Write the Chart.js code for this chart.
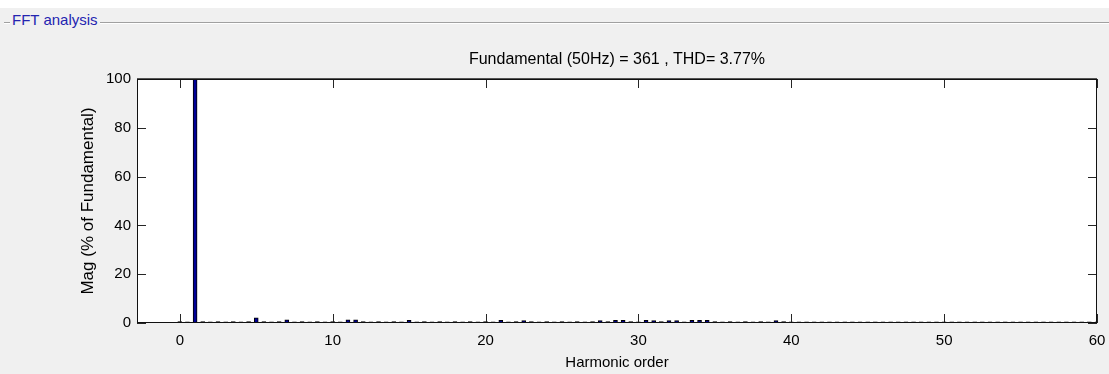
<!DOCTYPE html>
<html>
<head>
<meta charset="utf-8">
<title>FFT analysis</title>
<script src="https://cdn.jsdelivr.net/npm/chart.js@4.4.1/dist/chart.umd.min.js"></script>
<style>
    html, body { margin: 0; padding: 0; }
    body {
        position: relative;
        width: 1109px;
        height: 374px;
        overflow: hidden;
        background: linear-gradient(#ffffff 0, #ffffff 8px, #f0f0f0 8px);
        font-family: "Liberation Sans", Arial, sans-serif;
    }
    .group-line {
        position: absolute;
        left: 4px; right: 0; top: 22px;
        border-top: 1px solid #a0a0a0;
        border-bottom: 1px solid #ffffff;
    }
    .group-title {
        position: absolute;
        left: 10px; top: 11px;
        padding: 0 2px;
        background: #f0f0f0;
        color: #2424b0;
        font-size: 15px;
        line-height: 18px;
    }
    .chart-box { position: absolute; left: 0; top: 0; width: 1109px; height: 374px; }
</style>
</head>
<body>
<div class="group-line"></div>
<div class="group-title">FFT analysis</div>
<div class="chart-box"><canvas id="fftChart"></canvas></div>

<script>
// Harmonic bins (half-order resolution) and their magnitudes in % of fundamental
const harmonicOrders = [
    0, 0.5, 1, 1.5, 2, 2.5, 3, 3.5, 4, 4.5,
    5, 5.5, 6, 6.5, 7, 7.5, 8, 8.5, 9, 9.5,
    10, 10.5, 11, 11.5, 12, 12.5, 13, 13.5, 14, 14.5,
    15, 15.5, 16, 16.5, 17, 17.5, 18, 18.5, 19, 19.5,
    20, 20.5, 21, 21.5, 22, 22.5, 23, 23.5, 24, 24.5,
    25, 25.5, 26, 26.5, 27, 27.5, 28, 28.5, 29, 29.5,
    30, 30.5, 31, 31.5, 32, 32.5, 33, 33.5, 34, 34.5,
    35, 35.5, 36, 36.5, 37, 37.5, 38, 38.5, 39, 39.5,
    40, 40.5, 41, 41.5, 42, 42.5, 43, 43.5, 44, 44.5,
    45, 45.5, 46, 46.5, 47, 47.5, 48, 48.5, 49, 49.5,
    50, 50.5, 51, 51.5, 52, 52.5, 53, 53.5, 54, 54.5,
    55, 55.5, 56, 56.5, 57, 57.5, 58, 58.5, 59, 59.5,
    60
];

const magnitudes = [
    0.55, 0.5, 100, 0.55, 0.5, 0.55, 0.5, 0.55, 0.5, 0.55,
    2.1, 0.55, 0.5, 0.55, 1.3, 0.5, 0.55, 0.5, 0.55, 0.5,
    0.55, 0.5, 1.25, 1.25, 0.55, 0.5, 0.55, 0.5, 0.55, 0.5,
    1.1, 0.5, 0.55, 0.5, 0.55, 0.5, 0.55, 0.5, 0.55, 0.5,
    0.55, 0.5, 1.1, 0.5, 0.55, 1.0, 0.55, 0.5, 0.55, 0.5,
    0.55, 0.5, 0.55, 0.5, 0.55, 1.0, 0.55, 1.1, 1.1, 0.55,
    0.5, 1.1, 1.0, 0.55, 1.0, 1.0, 0.5, 1.05, 1.1, 1.05,
    0.55, 0.5, 0.55, 0.5, 0.55, 0.5, 0.55, 0.5, 1.0, 0.55,
    0.5, 0.5, 0.5, 0.5, 0.5, 0.5, 0.5, 0.5, 0.5, 0.5,
    0.5, 0.5, 0.5, 0.5, 0.5, 0.5, 0.5, 0.5, 0.5, 0.5,
    0.5, 0.5, 0.5, 0.5, 0.5, 0.5, 0.5, 0.5, 0.5, 0.5,
    0.5, 0.5, 0.5, 0.5, 0.5, 0.5, 0.5, 0.5, 0.5, 0.5,
    0.5
];

const xTicks = [0, 10, 20, 30, 40, 50, 60];
const yTicks = [0, 20, 40, 60, 80, 100];

const fundamentalHz = 50;
const fundamentalMag = 361;
const thdPercent = 3.77;

const TICK_LEN = 9;

// White plot background, box frame and inward ticks on all four sides
const axesFrame = {
    id: 'axesFrame',
    beforeDraw(chart) {
        const { ctx, chartArea: a } = chart;
        ctx.save();
        ctx.fillStyle = '#ffffff';
        ctx.fillRect(a.left, a.top, a.right - a.left, a.bottom - a.top);
        ctx.restore();
    },
    afterDraw(chart) {
        const { ctx, chartArea: a, scales } = chart;
        ctx.save();
        ctx.strokeStyle = '#262626';
        ctx.lineWidth = 1;
        ctx.beginPath();
        scales.x.ticks.forEach(t => {
            const px = Math.round(scales.x.getPixelForValue(t.value)) + 0.5;
            ctx.moveTo(px, a.bottom);
            ctx.lineTo(px, a.bottom - TICK_LEN);
            ctx.moveTo(px, a.top);
            ctx.lineTo(px, a.top + TICK_LEN);
        });
        scales.y.ticks.forEach(t => {
            const py = Math.round(scales.y.getPixelForValue(t.value)) + 0.5;
            ctx.moveTo(a.left, py);
            ctx.lineTo(a.left + TICK_LEN, py);
            ctx.moveTo(a.right, py);
            ctx.lineTo(a.right - TICK_LEN, py);
        });
        ctx.stroke();

        ctx.strokeStyle = '#111111';
        ctx.strokeRect(Math.round(a.left) + 0.5, Math.round(a.top) + 0.5,
            Math.round(a.right - a.left) - 1, Math.round(a.bottom - a.top) - 1);
        // slightly heavier top edge
        ctx.strokeStyle = '#555555';
        ctx.beginPath();
        ctx.moveTo(a.left, Math.round(a.top) - 0.5);
        ctx.lineTo(a.right, Math.round(a.top) - 0.5);
        ctx.stroke();
        ctx.restore();
    }
};

const axisFont = { family: '"Liberation Sans", Arial, sans-serif', size: 15 };

new Chart(document.getElementById('fftChart'), {
    type: 'bar',
    data: {
        datasets: [{
            data: harmonicOrders.map((h, i) => ({ x: h, y: magnitudes[i] })),
            backgroundColor: '#000096',
            borderColor: '#000000',
            borderWidth: 1,
            barThickness: 4
        }]
    },
    options: {
        responsive: true,
        maintainAspectRatio: false,
        animation: false,
        layout: { padding: 0 },
        plugins: {
            legend: { display: false },
            tooltip: { enabled: false },
            title: {
                display: true,
                fullSize: false,
                text: `Fundamental (${fundamentalHz}Hz) = ${fundamentalMag} , THD= ${thdPercent}%`,
                color: '#000000',
                font: { family: '"Liberation Sans", Arial, sans-serif', size: 16, weight: 'normal', lineHeight: 1.2 },
                padding: { top: 50.4, bottom: 9.4 }
            }
        },
        scales: {
            x: {
                type: 'linear',
                offset: false,
                bounds: 'ticks',
                min: -2.8,
                max: 60,
                afterBuildTicks: scale => { scale.ticks = xTicks.map(v => ({ value: v })); },
                afterFit: scale => {
                    scale.height = 51;
                    scale.paddingLeft = 0;
                    scale.paddingRight = 12;
                },
                grid: { display: false, drawTicks: false, offset: false },
                border: { display: false },
                ticks: { color: '#000000', font: axisFont, padding: 9, maxRotation: 0 },
                title: {
                    display: true,
                    text: 'Harmonic order',
                    color: '#000000',
                    font: { family: '"Liberation Sans", Arial, sans-serif', size: 15, lineHeight: 1.2 },
                    padding: { top: 0, bottom: 2 }
                }
            },
            y: {
                min: 0,
                max: 100,
                afterBuildTicks: scale => { scale.ticks = yTicks.map(v => ({ value: v })); },
                afterFit: scale => { scale.width = 137; },
                grid: { display: false, drawTicks: false },
                border: { display: false },
                ticks: { color: '#000000', font: axisFont, padding: 6 },
                title: {
                    display: true,
                    text: 'Mag (% of Fundamental)',
                    color: '#000000',
                    font: { family: '"Liberation Sans", Arial, sans-serif', size: 17, lineHeight: 1.2 },
                    padding: { top: 78, bottom: 0 }
                }
            }
        }
    },
    plugins: [axesFrame]
});
</script>
</body>
</html>
